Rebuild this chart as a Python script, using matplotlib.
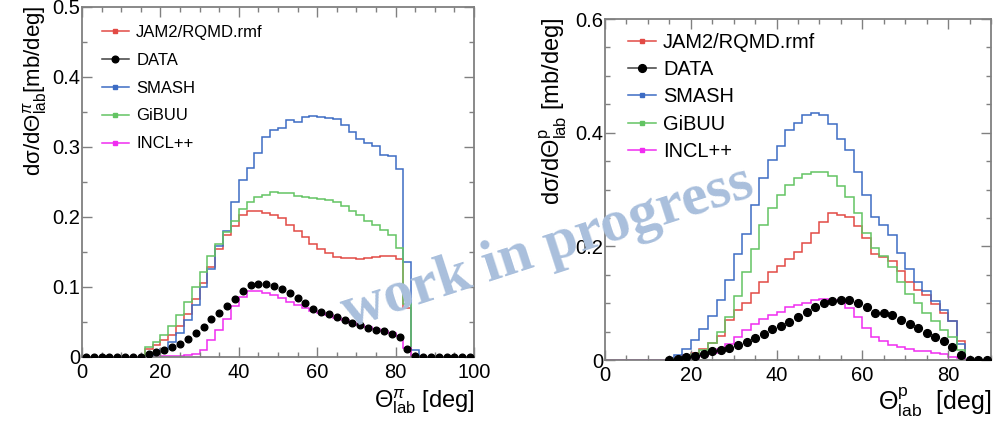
import numpy as np
import matplotlib
matplotlib.use("Agg")
import matplotlib.pyplot as plt
from matplotlib.lines import Line2D

plt.rcParams['font.family'] = ['Liberation Sans', 'DejaVu Sans']
plt.rcParams['mathtext.fontset'] = 'custom'
plt.rcParams['mathtext.rm'] = 'Liberation Sans'
plt.rcParams['mathtext.it'] = 'Liberation Sans:italic'
plt.rcParams['mathtext.bf'] = 'Liberation Sans:bold'

# ---- pion panel: 2 deg bins from 0 to 100 ----
pi_edges = np.arange(0, 101, 2)
pi_centers = np.arange(1, 100, 2)

pi_jam = [0, 0, 0, 0, 0, 0, 0, 0, 0.012, 0.017,
          0.024, 0.031, 0.044, 0.062, 0.083, 0.106, 0.129, 0.154, 0.174, 0.187,
          0.203, 0.208, 0.208, 0.206, 0.203, 0.198, 0.189, 0.180, 0.172, 0.162,
          0.154, 0.148, 0.143, 0.141, 0.141, 0.140, 0.142, 0.143, 0.145, 0.145,
          0.140, 0.070, 0, 0, 0, 0, 0, 0, 0, 0]
pi_smash = [0, 0, 0, 0, 0, 0, 0, 0, 0.002, 0.005,
            0.012, 0.022, 0.034, 0.053, 0.074, 0.100, 0.126, 0.158, 0.180, 0.222,
            0.253, 0.270, 0.292, 0.315, 0.324, 0.327, 0.339, 0.336, 0.343, 0.345,
            0.343, 0.342, 0.340, 0.331, 0.322, 0.312, 0.306, 0.302, 0.289, 0.287,
            0.268, 0.136, 0.010, 0, 0, 0, 0, 0, 0, 0]
pi_gibuu = [0, 0, 0, 0, 0, 0, 0, 0, 0.015, 0.021,
            0.031, 0.045, 0.060, 0.079, 0.100, 0.122, 0.144, 0.162, 0.178, 0.194,
            0.212, 0.222, 0.228, 0.232, 0.236, 0.234, 0.235, 0.230, 0.228, 0.227,
            0.226, 0.224, 0.221, 0.216, 0.209, 0.203, 0.194, 0.188, 0.181, 0.174,
            0.156, 0.076, 0, 0, 0, 0, 0, 0, 0, 0]
pi_incl = [0, 0, 0, 0, 0, 0, 0, 0, 0, 0.0005,
           0.001, 0.0015, 0.002, 0.003, 0.004, 0.010, 0.024, 0.038, 0.055, 0.073,
           0.086, 0.095, 0.095, 0.092, 0.089, 0.084, 0.079, 0.074, 0.070, 0.066,
           0.063, 0.060, 0.056, 0.053, 0.049, 0.046, 0.043, 0.040, 0.037, 0.034,
           0.030, 0.013, 0, 0, 0, 0, 0, 0, 0, 0]
pi_data = [0, 0, 0, 0, 0, 0, 0, 0, 0.005, 0.007,
           0.010, 0.014, 0.019, 0.026, 0.035, 0.043, 0.054, 0.063, 0.073, 0.083,
           0.095, 0.103, 0.104, 0.104, 0.102, 0.097, 0.091, 0.084, 0.077, 0.069,
           0.065, 0.061, 0.057, 0.053, 0.049, 0.046, 0.042, 0.039, 0.037, 0.033,
           0.028, 0.012, 0.001, 0, 0, 0, 0, 0, 0, 0]

# ---- proton panel: 2 deg bins from 0 to 90 ----
p_edges = np.arange(0, 91, 2)
p_data_centers = np.arange(15, 90, 2)

p_jam = [0, 0, 0, 0, 0, 0, 0, 0, 0.004, 0.008,
         0.013, 0.020, 0.030, 0.042, 0.070, 0.088, 0.100, 0.118, 0.138, 0.154,
         0.165, 0.177, 0.190, 0.206, 0.223, 0.243, 0.258, 0.255, 0.251, 0.236,
         0.214, 0.187, 0.182, 0.175, 0.157, 0.138, 0.124, 0.114, 0.099, 0.082,
         0.069, 0.034, 0, 0, 0]
p_smash = [0, 0, 0, 0, 0, 0, 0, 0, 0.008, 0.020,
           0.035, 0.054, 0.077, 0.105, 0.141, 0.186, 0.222, 0.273, 0.320, 0.352,
           0.376, 0.404, 0.417, 0.431, 0.434, 0.431, 0.416, 0.388, 0.369, 0.331,
           0.290, 0.252, 0.238, 0.220, 0.189, 0.160, 0.138, 0.121, 0.103, 0.088,
           0.068, 0.029, 0, 0, 0]
p_gibuu = [0, 0, 0, 0, 0, 0, 0, 0, 0.002, 0.005,
           0.010, 0.018, 0.030, 0.050, 0.075, 0.113, 0.155, 0.196, 0.238, 0.267,
           0.290, 0.308, 0.320, 0.327, 0.331, 0.331, 0.323, 0.306, 0.287, 0.258,
           0.224, 0.197, 0.183, 0.164, 0.138, 0.117, 0.100, 0.082, 0.068, 0.053,
           0.040, 0.017, 0, 0, 0]
p_incl = [0, 0, 0, 0, 0, 0, 0, 0, 0.0005, 0.001,
          0.003, 0.007, 0.013, 0.020, 0.028, 0.040, 0.053, 0.063, 0.073, 0.079,
          0.085, 0.093, 0.097, 0.101, 0.106, 0.107, 0.105, 0.103, 0.091, 0.076,
          0.056, 0.040, 0.034, 0.026, 0.022, 0.019, 0.016, 0.015, 0.012, 0.010,
          0.006, 0.003, 0, 0, 0]
p_data = [0.0, 0.002, 0.005, 0.007, 0.011, 0.015, 0.018, 0.021, 0.026, 0.032,
          0.039, 0.046, 0.054, 0.060, 0.067, 0.076, 0.085, 0.094, 0.100, 0.104,
          0.105, 0.105, 0.101, 0.093, 0.083, 0.082, 0.079, 0.070, 0.063, 0.056,
          0.047, 0.040, 0.034, 0.023, 0.009, 0, 0, 0]

labels = ["JAM2/RQMD.rmf", "DATA", "SMASH", "GiBUU", "INCL++"]
colors = {
    "jam": "#e24a45",
    "smash": "#3d6cc4",
    "gibuu": "#63c463",
    "incl": "#f02cf0",
}
FRAME = "#808080"


def style_axes(ax, xlim, ylim, ymajor, fs):
    ax.set_xlim(*xlim)
    ax.set_ylim(*ylim)
    ax.set_xticks(np.arange(xlim[0], xlim[1] + 0.1, 20))
    ax.set_xticks(np.arange(xlim[0], xlim[1] + 0.1, 5), minor=True)
    ax.set_yticks(np.arange(0, ylim[1] + 1e-9, ymajor))
    ax.set_yticks(np.arange(0, ylim[1] + 1e-9, 0.05), minor=True)
    ax.yaxis.set_major_formatter(plt.FuncFormatter(lambda v, p: "0" if v == 0 else f"{v:g}"))
    ax.tick_params(which="both", direction="in", top=True, right=True, color=FRAME, width=1.0)
    ax.tick_params(which="major", length=7)
    ax.tick_params(which="minor", length=3.5)
    ax.tick_params(axis="y", labelsize=fs, pad=1.5)
    ax.tick_params(axis="x", labelsize=fs, pad=4.5)
    for s in ax.spines.values():
        s.set_color(FRAME)
        s.set_linewidth(1.3)


def draw_panel(ax, edges, jam, smash, gibuu, incl, data_x, data_y, msize):
    ax.stairs(jam, edges, color=colors["jam"], lw=1.1)
    ax.stairs(smash, edges, color=colors["smash"], lw=1.1)
    ax.stairs(gibuu, edges, color=colors["gibuu"], lw=1.1)
    ax.stairs(incl, edges, color=colors["incl"], lw=1.1)
    ax.plot(data_x, data_y, "o", color="black", markersize=msize, zorder=5)


def legend_handles(msize):
    return [
        Line2D([], [], color=colors["jam"], lw=1.1, marker="s", markersize=2.2),
        Line2D([], [], color="#404040", lw=1.1, marker="o", markersize=msize, markerfacecolor="black",
               markeredgecolor="black"),
        Line2D([], [], color=colors["smash"], lw=1.1, marker="s", markersize=2.2),
        Line2D([], [], color=colors["gibuu"], lw=1.1, marker="s", markersize=2.2),
        Line2D([], [], color=colors["incl"], lw=1.1, marker="s", markersize=2.2),
    ]


if __name__ == '__main__':
    W, H = 995, 422
    fig = plt.figure(figsize=(W / 100, H / 100), dpi=100)

    ax1 = fig.add_axes([82 / W, 1 - 357 / H, (474 - 82) / W, (357 - 7) / H])
    ax2 = fig.add_axes([605 / W, 1 - 360 / H, (991 - 605) / W, (360 - 19) / H])

    draw_panel(ax1, pi_edges, pi_jam, pi_smash, pi_gibuu, pi_incl, pi_centers, pi_data, 4.8)
    draw_panel(ax2, p_edges, p_jam, p_smash, p_gibuu, p_incl, p_data_centers, p_data, 5.6)

    style_axes(ax1, (0, 100), (0, 0.5), 0.1, 14.5)
    style_axes(ax2, (0, 90), (0, 0.6), 0.2, 14.5)

    ax1.legend(legend_handles(4.8), labels, loc="upper left", bbox_to_anchor=(102 / W, 1 - 25 / H),
               bbox_transform=fig.transFigure, frameon=False, fontsize=12, borderpad=0,
               borderaxespad=0, handlelength=1.6, handletextpad=0.45, labelspacing=0.77)
    ax2.legend(legend_handles(5.6), labels, loc="upper left", bbox_to_anchor=(628 / W, 1 - 33 / H),
               bbox_transform=fig.transFigure, frameon=False, fontsize=14.4, borderpad=0,
               borderaxespad=0, handlelength=1.4, handletextpad=0.35, labelspacing=0.41)

    fig.text(35 / W, 1 - 5 / H, r"dσ/dΘ$^{\pi}_{\mathrm{lab}}$[mb/deg]", rotation=90,
             ha="center", va="top", fontsize=16)
    fig.text(553 / W, 1 - 17 / H, r"dσ/dΘ$^{\mathrm{p}}_{\mathrm{lab}}$ [mb/deg]", rotation=90,
             ha="center", va="top", fontsize=17)
    fig.text(475 / W, 1 - 408 / H, r"Θ$^{\pi}_{\mathrm{lab}}$ [deg]", ha="right", va="baseline",
             fontsize=17)
    fig.text(991 / W, 1 - 410 / H, r"Θ$^{\mathrm{p}}_{\mathrm{lab}}$  [deg]", ha="right", va="baseline",
             fontsize=18)

    fig.text(548 / W, 1 - 248 / H, "work in progress", family="Liberation Serif", weight="bold",
             fontsize=43, color="#a9bfdc", rotation=18, ha="center", va="center",
             rotation_mode="anchor", zorder=10)

    fig.savefig("out.png", dpi=100)
